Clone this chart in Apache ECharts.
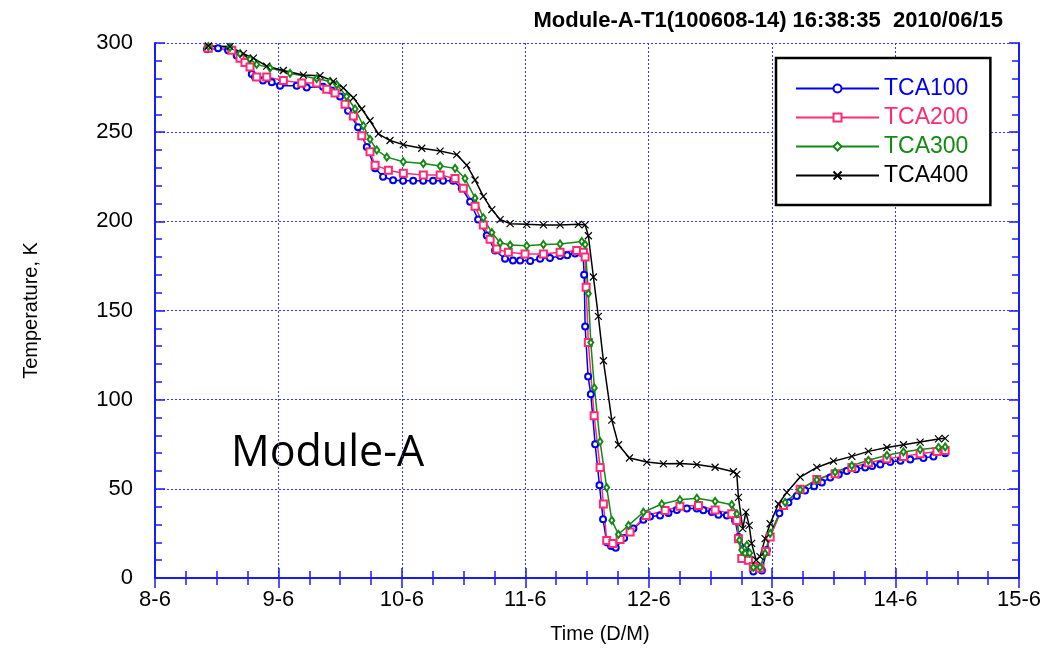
<!DOCTYPE html>
<html>
<head>
<meta charset="utf-8">
<script src="https://cdn.jsdelivr.net/npm/echarts@6/dist/echarts.min.js"></script>
<style>
  html, body { margin: 0; padding: 0; background: #fff; }
  #chart { width: 1044px; height: 649px; }
</style>
</head>
<body>
<div id="chart"></div>
<script>
// time in days of June (8 = 8-6 00:00), temperature in K
const dayTicks = ['8-6', '9-6', '10-6', '11-6', '12-6', '13-6', '14-6', '15-6'];

const t100 = [8.421, 8.511, 8.592, 8.662, 8.729, 8.784, 8.810, 8.875, 8.946, 9.013, 9.148, 9.229, 9.361, 9.432, 9.499, 9.564, 9.645, 9.716, 9.783, 9.848, 9.929, 10.010, 10.092, 10.173, 10.253, 10.334, 10.415, 10.485, 10.553, 10.618, 10.688, 10.755, 10.836, 10.900, 10.958, 11.040, 11.120, 11.200, 11.282, 11.340, 11.404, 11.468, 11.477, 11.485, 11.509, 11.531, 11.566, 11.601, 11.630, 11.660, 11.695, 11.733, 11.801, 11.876, 11.957, 12.011, 12.092, 12.160, 12.228, 12.309, 12.390, 12.443, 12.511, 12.565, 12.633, 12.700, 12.727, 12.781, 12.803, 12.848, 12.917, 12.957, 12.984, 13.059, 13.132, 13.200, 13.267, 13.340, 13.403, 13.471, 13.540, 13.605, 13.680, 13.754, 13.810, 13.876, 13.957, 14.040, 14.119, 14.226, 14.307, 14.402];
const v100 = [296.5, 297, 296, 293, 289, 282.6, 281, 279, 278, 276, 276, 275, 275.4, 273.4, 270, 262, 252.7, 241.7, 229.7, 225, 223, 222.7, 222.7, 222.7, 222.7, 222.7, 222.7, 218.6, 211, 201, 192, 183.6, 179, 178, 178, 177.8, 179, 179.5, 180.5, 181, 182, 182, 170, 141, 113, 103, 75, 52, 33, 20, 18, 17, 22.5, 27.7, 32.6, 34.5, 35, 36.5, 38.2, 39, 39, 38, 37, 35.4, 35, 32.3, 23, 16.6, 14, 3.7, 4.2, 15.7, 23.4, 36.3, 42.4, 46, 49, 51.5, 53.5, 56.3, 58, 60, 61, 62, 62.8, 63.6, 65, 65.8, 66.4, 67.3, 68.2, 70];

const t200 = [8.432, 8.622, 8.689, 8.729, 8.770, 8.824, 8.905, 9.040, 9.189, 9.310, 9.391, 9.459, 9.540, 9.607, 9.675, 9.742, 9.783, 9.891, 10.012, 10.174, 10.310, 10.431, 10.498, 10.593, 10.660, 10.715, 10.769, 10.863, 10.998, 11.147, 11.282, 11.417, 11.471, 11.485, 11.493, 11.511, 11.558, 11.606, 11.633, 11.660, 11.709, 11.768, 11.849, 11.979, 12.133, 12.253, 12.403, 12.538, 12.673, 12.714, 12.727, 12.754, 12.808, 12.848, 12.902, 12.949, 12.984, 13.092, 13.227, 13.362, 13.510, 13.646, 13.780, 13.930, 14.064, 14.199, 14.335, 14.402];
const v200 = [297, 296, 291.5, 289, 286.5, 281, 281, 279, 277.6, 277.6, 274, 272, 265.6, 259, 248, 239, 231.5, 228.7, 227, 226, 226, 224, 218.6, 208.5, 198, 190, 184.5, 182.6, 181.7, 181.7, 182.6, 183.6, 182.6, 180, 163, 132, 91, 62, 41.5, 21, 19.4, 21.6, 25.8, 35, 37.8, 40.2, 40.6, 38.2, 36, 32.3, 22, 11, 10, 6.5, 5.5, 14.8, 23, 40.6, 49.8, 55.3, 58.5, 62, 64.6, 66.8, 68.2, 69.7, 71, 71.5];

const t300 = [8.432, 8.608, 8.689, 8.770, 8.824, 8.932, 9.094, 9.310, 9.418, 9.472, 9.553, 9.621, 9.688, 9.742, 9.797, 9.878, 10.012, 10.174, 10.310, 10.431, 10.512, 10.593, 10.660, 10.729, 10.796, 10.877, 11.012, 11.147, 11.282, 11.458, 11.485, 11.511, 11.531, 11.560, 11.606, 11.660, 11.701, 11.755, 11.836, 11.957, 12.106, 12.253, 12.390, 12.538, 12.673, 12.714, 12.735, 12.754, 12.781, 12.795, 12.818, 12.848, 12.902, 12.943, 12.984, 13.105, 13.227, 13.362, 13.510, 13.646, 13.780, 13.930, 14.064, 14.199, 14.348, 14.402];
const v300 = [298, 297.6, 294, 291, 288, 286, 283, 280, 278.5, 276.7, 270, 263, 253.6, 246, 240, 236, 233.4, 232.4, 231, 229.7, 224, 213, 202, 193.7, 188, 186.7, 186.3, 187, 187.3, 188.7, 187, 159.5, 132, 106.6, 76.5, 50.7, 32.3, 24.5, 29.5, 36.9, 41.5, 43.9, 44.7, 43, 41.1, 36, 21.2, 15.7, 13.8, 18.4, 14, 6, 6, 13.8, 25, 42.4, 49.5, 55, 59.4, 63, 66, 68.8, 70.7, 72, 73.2, 73.5];

const t400 = [8.432, 8.608, 8.716, 8.797, 8.905, 9.040, 9.202, 9.337, 9.445, 9.526, 9.607, 9.675, 9.742, 9.810, 9.904, 10.012, 10.161, 10.310, 10.445, 10.526, 10.593, 10.660, 10.729, 10.796, 10.877, 11.012, 11.147, 11.282, 11.430, 11.485, 11.511, 11.552, 11.592, 11.633, 11.701, 11.755, 11.844, 11.985, 12.119, 12.253, 12.390, 12.538, 12.686, 12.714, 12.727, 12.762, 12.787, 12.814, 12.834, 12.870, 12.902, 12.943, 12.984, 13.051, 13.119, 13.227, 13.362, 13.497, 13.646, 13.780, 13.930, 14.064, 14.199, 14.348, 14.402];
const v400 = [298.3, 298, 294, 291.5, 287, 284.6, 282, 281.7, 278.5, 274.8, 269.3, 263, 256.4, 249, 245.3, 243, 241, 239.4, 237.4, 231.5, 223.2, 214, 206.6, 201, 198.7, 198.3, 198, 198, 198.3, 198, 191.9, 168.8, 146.7, 121.8, 88.5, 74.7, 67.3, 65, 64, 64.2, 63.6, 62.1, 59.6, 58.1, 45.2, 27.7, 36.9, 29.5, 19.4, 10.1, 12, 22.1, 30.4, 41.5, 48, 56.6, 62, 65.5, 68.2, 71, 73.2, 74.7, 76.2, 78, 78.3];

const names = ['TCA100', 'TCA200', 'TCA300', 'TCA400'];
const colors = ['#0000f0', '#ff2a75', '#138a13', '#000000'];

const zip = (t, v) => t.map((x, i) => [x, v[i]]);

const axisBlue = '#1a1aff';
const fontMain = 'Liberation Sans, Arial, sans-serif';

const chart = echarts.init(document.getElementById('chart'));

const frameAxis = {
    min: 0, max: 1, show: true,
    axisLine: { lineStyle: { color: axisBlue, width: 2 } },
    axisLabel: { show: false },
    axisTick: { inside: true, length: 10, lineStyle: { color: axisBlue, width: 1.5 } },
    minorTick: { show: true, length: 7, lineStyle: { color: axisBlue, width: 1.5 } },
    splitLine: { show: false }
};

chart.setOption({
    animation: false,
    backgroundColor: '#fff',
    title: {
        text: 'Module-A-T1(100608-14) 16:38:35  2010/06/15',
        right: 36,
        top: 5,
        textStyle: { fontFamily: fontMain, fontSize: 22, fontWeight: 'bold', color: '#000' }
    },
    grid: { left: 155, right: 25, top: 43, bottom: 64 },
    legend: {
        orient: 'vertical',
        left: 776,
        top: 58,
        padding: [19, 22, 18, 19],
        itemGap: 6,
        itemWidth: 83,
        itemHeight: 10,
        backgroundColor: '#fff',
        borderColor: '#000',
        borderWidth: 2.5,
        borderRadius: 0,
        textStyle: { fontFamily: fontMain, fontSize: 23 },
        data: names.map((n, i) => ({ name: n, textStyle: { color: colors[i] } }))
    },
    xAxis: [{
        type: 'value',
        min: 8, max: 15, interval: 1,
        name: 'Time (D/M)',
        nameLocation: 'middle',
        nameGap: 46,
        nameTextStyle: { fontFamily: fontMain, fontSize: 20, color: '#000', padding: [0, 0, 0, 26] },
        axisLine: { lineStyle: { color: axisBlue, width: 2 } },
        axisTick: { inside: true, length: 10, lineStyle: { color: axisBlue, width: 1.5 } },
        minorTick: { show: true, splitNumber: 4, length: 7, lineStyle: { color: axisBlue, width: 1.5 } },
        axisLabel: {
            color: '#000', fontFamily: fontMain, fontSize: 22, margin: 11,
            formatter: v => dayTicks[Math.round(v - 8)]
        },
        splitLine: { show: true, lineStyle: { color: '#3333ff', type: [2, 2], width: 1 } }
    }, Object.assign({}, frameAxis, {
        type: 'value', position: 'top', min: 8, max: 15, interval: 1,
        minorTick: Object.assign({}, frameAxis.minorTick, { splitNumber: 4 })
    })],
    yAxis: [{
        type: 'value',
        min: 0, max: 300, interval: 50,
        name: 'Temperature, K',
        nameLocation: 'middle',
        nameGap: 114,
        nameRotate: 90,
        nameTextStyle: { fontFamily: fontMain, fontSize: 20, color: '#000' },
        axisLine: { show: true, lineStyle: { color: axisBlue, width: 2 } },
        axisTick: { show: true, inside: true, length: 10, lineStyle: { color: axisBlue, width: 1.5 } },
        minorTick: { show: true, splitNumber: 5, length: 7, lineStyle: { color: axisBlue, width: 1.5 } },
        axisLabel: { color: '#000', fontFamily: fontMain, fontSize: 22, margin: 22 },
        splitLine: { show: true, lineStyle: { color: '#3333ff', type: [2, 2], width: 1 } }
    }, Object.assign({}, frameAxis, {
        type: 'value', position: 'right', min: 0, max: 300, interval: 50,
        minorTick: Object.assign({}, frameAxis.minorTick, { splitNumber: 5 })
    })],
    graphic: [{
        type: 'text',
        left: 231,
        top: 432,
        style: { text: 'Module-A', font: '43px "Open Sans", sans-serif', fill: '#000' }
    }],
    series: [{
        name: names[0], type: 'line', data: zip(t100, v100),
        symbol: 'emptyCircle', symbolSize: 6,
        lineStyle: { color: colors[0], width: 1.5 },
        itemStyle: { color: colors[0], borderWidth: 2 }
    }, {
        name: names[1], type: 'line', data: zip(t200, v200),
        symbol: 'emptyRect', symbolSize: 7,
        lineStyle: { color: colors[1], width: 1.5 },
        itemStyle: { color: colors[1], borderWidth: 1.3 }
    }, {
        name: names[2], type: 'line', data: zip(t300, v300),
        symbol: 'emptyDiamond', symbolSize: [5, 7],
        lineStyle: { color: colors[2], width: 1.5 },
        itemStyle: { color: colors[2], borderWidth: 1.2 }
    }, {
        name: names[3], type: 'line', data: zip(t400, v400),
        symbol: 'path://M0,0L10,10M10,0L0,10', symbolSize: 7,
        lineStyle: { color: colors[3], width: 1.5 },
        itemStyle: { color: 'none', borderColor: colors[3], borderWidth: 1.2 }
    }]
});
</script>
</body>
</html>
